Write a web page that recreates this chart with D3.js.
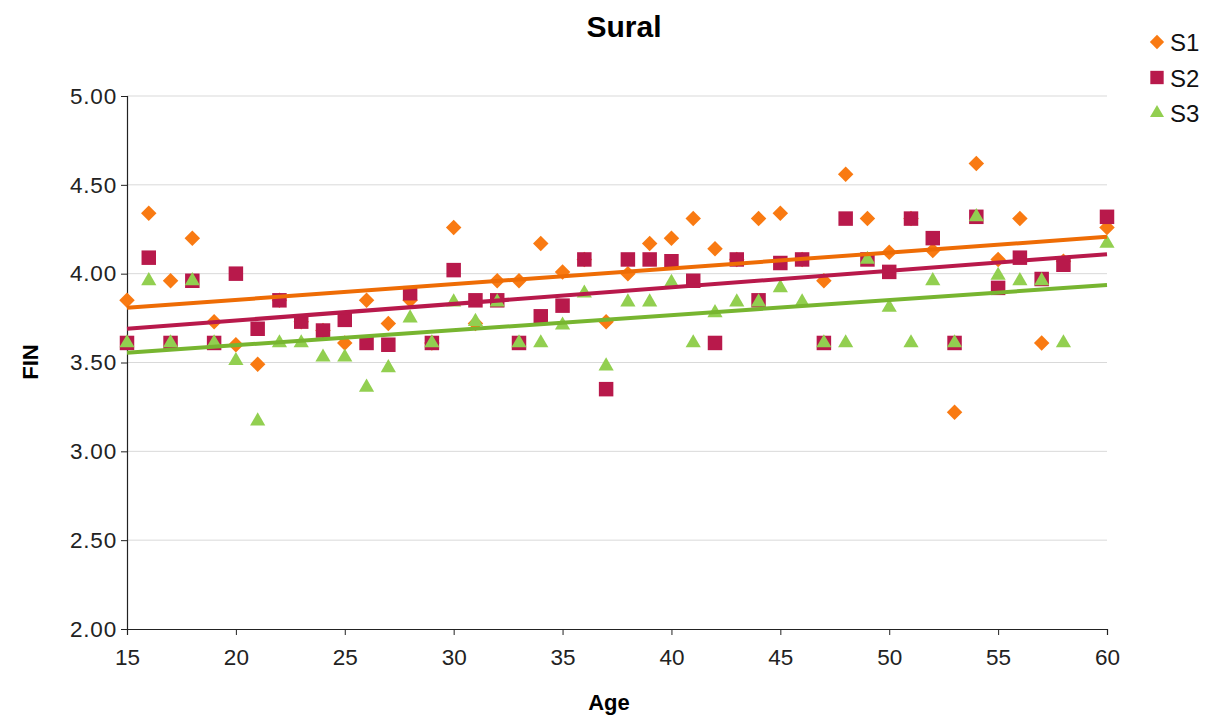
<!DOCTYPE html>
<html>
<head>
<meta charset="utf-8">
<script src="https://cdn.jsdelivr.net/npm/d3@7"></script>
<style>
  html, body { margin: 0; padding: 0; background: #fff; }
  svg { display: block; font-family: "Liberation Sans", Arial, Helvetica, sans-serif; }
</style>
</head>
<body>
<svg id="chart" width="1212" height="718"></svg>
<script>
// Ages measured (x) and the FIN value of each subject at that age
const ages = [15,16,17,18,19,20,21,22,23,24,25,26,27,28,29,30,31,32,33,34,35,36,37,38,39,40,41,42,43,44,45,46,47,48,49,50,51,52,53,54,55,56,57,58,60];
const s1 = [3.85,4.34,3.96,4.20,3.73,3.60,3.49,3.85,3.73,3.68,3.61,3.85,3.72,3.85,3.61,4.26,3.72,3.96,3.96,4.17,4.01,4.08,3.73,4.00,4.17,4.20,4.31,4.14,4.08,4.31,4.34,4.08,3.96,4.56,4.31,4.12,4.31,4.13,3.22,4.62,4.08,4.31,3.61,4.07,4.26];
const s2 = [3.61,4.09,3.61,3.96,3.61,4.00,3.69,3.85,3.73,3.68,3.74,3.61,3.60,3.89,3.61,4.02,3.85,3.85,3.61,3.76,3.82,4.08,3.35,4.08,4.08,4.07,3.96,3.61,4.08,3.85,4.06,4.08,3.61,4.31,4.08,4.01,4.31,4.20,3.61,4.32,3.92,4.09,3.97,4.05,4.32];
const s3 = [3.61,3.96,3.61,3.96,3.61,3.51,3.17,3.61,3.61,3.53,3.53,3.36,3.47,3.75,3.61,3.84,3.73,3.84,3.61,3.61,3.71,3.89,3.48,3.84,3.84,3.95,3.61,3.78,3.84,3.84,3.92,3.84,3.61,3.61,4.08,3.81,3.61,3.96,3.61,4.32,3.99,3.96,3.96,3.61,4.17];

const seriesNames = ["S1", "S2", "S3"];
const xTicks = [15,20,25,30,35,40,45,50,55,60];
const yTicks = [2.0,2.5,3.0,3.5,4.0,4.5,5.0];

// Diamond = square symbol turned 45 degrees
const series = [
  { name: seriesNames[0], values: s1, shape: d3.symbolSquare,   rot: 45, color: "#F97A12", line: "#EE6C05", size: 120 },
  { name: seriesNames[1], values: s2, shape: d3.symbolSquare,   rot: 0,  color: "#B8194B", line: "#B8194B", size: 210 },
  { name: seriesNames[2], values: s3, shape: d3.symbolTriangle, rot: 0,  color: "#92CF50", line: "#77B530", size: 100 }
];

const svg = d3.select("#chart");
const margin = { left: 127, right: 105, top: 96, bottom: 89 };
const W = 1212, H = 718;

const x = d3.scaleLinear().domain([15, 60]).range([margin.left, W - margin.right]);
const y = d3.scaleLinear().domain([2, 5]).range([H - margin.bottom, margin.top]);

// Horizontal gridlines
svg.append("g")
  .selectAll("line")
  .data(yTicks.slice(1))
  .join("line")
  .attr("x1", x(15)).attr("x2", x(60))
  .attr("y1", d => y(d)).attr("y2", d => y(d))
  .attr("stroke", "#d9d9d9").attr("stroke-width", 1);

// Axes
const xAxis = svg.append("g")
  .attr("transform", `translate(0,${y(2)})`)
  .call(d3.axisBottom(x).tickValues(xTicks).tickSize(6).tickPadding(14).tickFormat(d3.format("d")));
const yAxis = svg.append("g")
  .attr("transform", `translate(${x(15)},0)`)
  .call(d3.axisLeft(y).tickValues(yTicks).tickSize(6).tickPadding(4).tickFormat(d3.format(".2f")));

[xAxis, yAxis].forEach(g => {
  g.select(".domain").attr("stroke", "#222").attr("stroke-width", 1.2);
  g.selectAll(".tick line").attr("stroke", "#222");
  g.selectAll(".tick text").attr("fill", "#222").style("font-size", "22.5px")
    .style("font-family", "\"Liberation Sans\", Arial, sans-serif");
});
yAxis.selectAll(".tick text").style("letter-spacing", "0.8px");

// Markers, S1 drawn first so later series sit on top
series.forEach(s => {
  svg.append("g")
    .selectAll("path")
    .data(ages.map((a, i) => [a, s.values[i]]))
    .join("path")
    .attr("d", d3.symbol().type(s.shape).size(s.size))
    .attr("transform", d => `translate(${x(d[0])},${y(d[1])}) rotate(${s.rot})`)
    .attr("fill", s.color);
});

// Least-squares trend lines
series.forEach(s => {
  const n = ages.length;
  const mx = d3.mean(ages), my = d3.mean(s.values);
  let sxy = 0, sxx = 0;
  for (let i = 0; i < n; i++) {
    sxy += (ages[i] - mx) * (s.values[i] - my);
    sxx += (ages[i] - mx) * (ages[i] - mx);
  }
  const slope = sxy / sxx, icpt = my - slope * mx;
  const pts = [15, 60].map(a => [a, icpt + slope * a]);
  svg.append("line")
    .attr("x1", x(pts[0][0])).attr("y1", y(pts[0][1]))
    .attr("x2", x(pts[1][0])).attr("y2", y(pts[1][1]))
    .attr("stroke", s.line).attr("stroke-width", 4);
});

// Title and axis titles
svg.append("text").attr("x", 624).attr("y", 37).attr("text-anchor", "middle")
  .style("font-size", "30px").style("font-weight", "bold").attr("fill", "#000").text("Sural");
svg.append("text").attr("x", 609).attr("y", 710).attr("text-anchor", "middle")
  .style("font-size", "22px").style("font-weight", "bold").attr("fill", "#000").text("Age");
svg.append("text").attr("transform", "translate(38,362) rotate(-90)").attr("text-anchor", "middle")
  .style("font-size", "22px").style("font-weight", "bold").attr("fill", "#000").text("FIN");

// Legend
const legend = svg.append("g").attr("transform", "translate(1157,42)");
series.forEach((s, i) => {
  const g = legend.append("g").attr("transform", `translate(0,${i * 35.5})`);
  g.append("path").attr("d", d3.symbol().type(s.shape).size(s.size * 0.85))
    .attr("transform", `rotate(${s.rot})`).attr("fill", s.color);
  g.append("text").attr("x", 13).attr("y", 9).style("font-size", "24px").attr("fill", "#111").text(s.name);
});
</script>
</body>
</html>
